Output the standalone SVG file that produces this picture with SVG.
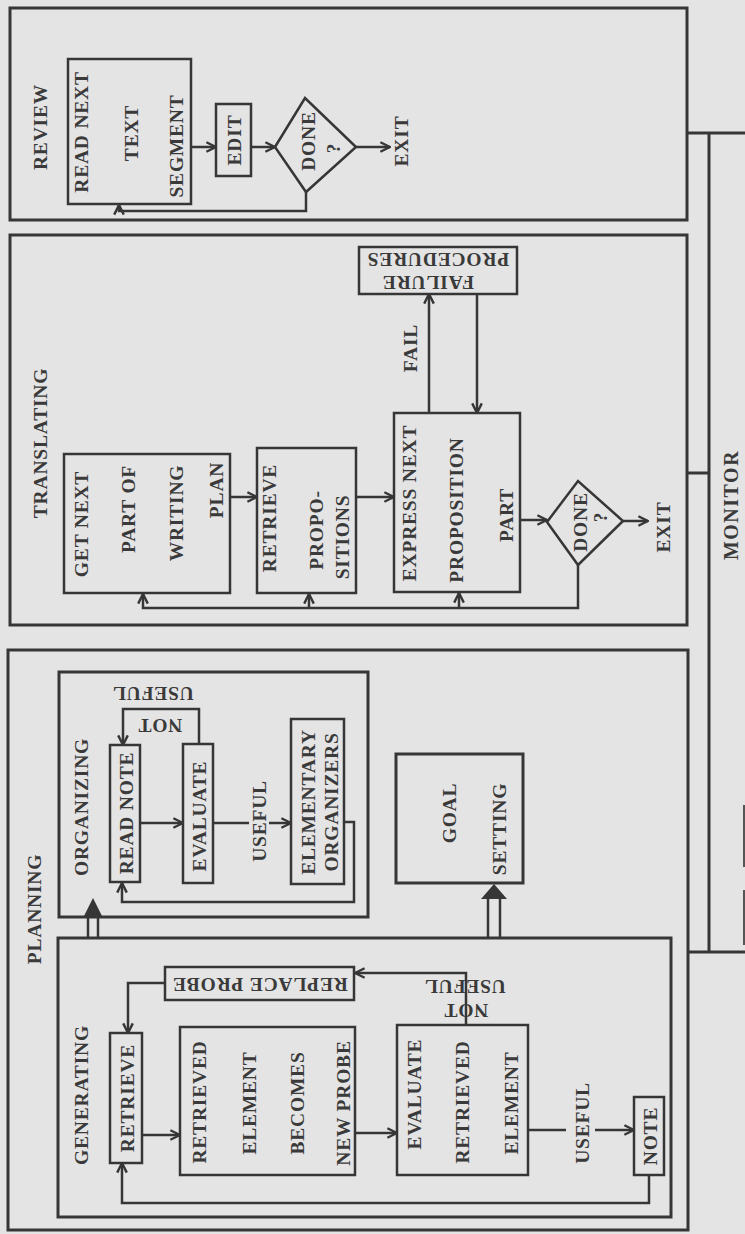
<svg xmlns="http://www.w3.org/2000/svg" width="745" height="1234" viewBox="0 0 745 1234">
<style>
.bg{fill:#e4e4e4}
.box{fill:none;stroke:#363636;stroke-width:3}
.ib{fill:none;stroke:#363636;stroke-width:2.5}
.ln{fill:none;stroke:#363636;stroke-width:2.5}
.ar{fill:none;stroke:#363636;stroke-width:2.5;marker-end:url(#a)}
.t{font-family:"Liberation Serif","Times New Roman",serif;font-size:19.5px;font-weight:bold;fill:#3a3a3a;letter-spacing:0.8px;text-anchor:middle;dominant-baseline:central}
.b{font-size:20px;letter-spacing:1.5px}
.fh{fill:#363636;stroke:none}
.mk{fill:none;stroke:#555;stroke-width:2}
</style>
<defs>
<marker id="a" viewBox="0 0 10 10" refX="9" refY="5" markerWidth="12" markerHeight="12" markerUnits="userSpaceOnUse" orient="auto">
<path d="M1,1 L9,5 L1,9" fill="none" stroke="#363636" stroke-width="2"/>
</marker>
</defs>
<rect class="bg" x="0" y="0" width="745" height="1234"/>

<g id="review">
<rect class="box" x="10" y="8" width="677" height="212"/>
<text class="t" transform="translate(40,127) rotate(-90)">REVIEW</text>
<g id="read-next">
<rect class="ib" x="68" y="59" width="123" height="145"/>
<text class="t" transform="translate(81,132) rotate(-90)">READ NEXT</text>
<text class="t" transform="translate(131,133) rotate(-90)">TEXT</text>
<text class="t" transform="translate(176,146) rotate(-90)">SEGMENT</text>
</g>
<g id="edit">
<rect class="ib" x="216" y="104" width="35" height="72"/>
<text class="t" transform="translate(234,140) rotate(-90)">EDIT</text>
</g>
<g id="review-done">
<polygon class="ib" points="275,147 305,98 356,147 306,192"/>
<text class="t" transform="translate(308,141) rotate(-90)">DONE</text>
<text class="t" transform="translate(333,148) rotate(-90)">?</text>
</g>
<text id="review-exit" class="t" transform="translate(401,141) rotate(-90)">EXIT</text>
</g>

<g id="translating">
<rect class="box" x="10" y="235" width="677" height="390"/>
<text class="t" transform="translate(40,443) rotate(-90)">TRANSLATING</text>
<g id="get-next">
<rect class="ib" x="64" y="454" width="166" height="139"/>
<text class="t" transform="translate(81,524) rotate(-90)">GET NEXT</text>
<text class="t" transform="translate(128,509) rotate(-90)">PART OF</text>
<text class="t" transform="translate(176,513) rotate(-90)">WRITING</text>
<text class="t" transform="translate(216,490) rotate(-90)">PLAN</text>
</g>
<g id="retrieve-propositions">
<rect class="ib" x="257" y="448" width="99" height="145"/>
<text class="t" transform="translate(269,518) rotate(-90)">RETRIEVE</text>
<text class="t" transform="translate(316,530) rotate(-90)">PROPO-</text>
<text class="t" transform="translate(342,537) rotate(-90)">SITIONS</text>
</g>
<g id="express">
<rect class="ib" x="394" y="413" width="126" height="179"/>
<text class="t" transform="translate(409,503) rotate(-90)">EXPRESS NEXT</text>
<text class="t" transform="translate(456,510) rotate(-90)">PROPOSITION</text>
<text class="t" transform="translate(506,515) rotate(-90)">PART</text>
</g>
<g id="failure">
<rect class="ib" x="359" y="247" width="158" height="47"/>
<text class="t" transform="translate(428,282) rotate(180)">FAILURE</text>
<text class="t" transform="translate(438,259) rotate(180)">PROCEDURES</text>
</g>
<g id="translating-done">
<polygon class="ib" points="547,522 578,481 623,521 578,565"/>
<text class="t" transform="translate(580,522) rotate(-90)">DONE</text>
<text class="t" transform="translate(600,517) rotate(-90)">?</text>
</g>
<text id="translating-exit" class="t" transform="translate(663,527) rotate(-90)">EXIT</text>
</g>

<g id="planning">
<rect class="box" x="8" y="650" width="680" height="580"/>
<text class="t" transform="translate(34,909) rotate(-90)">PLANNING</text>
<g id="organizing">
<rect class="box" x="59" y="672" width="309" height="245"/>
<text class="t" transform="translate(81,807) rotate(-90)">ORGANIZING</text>
<g id="read-note">
<rect class="ib" x="110" y="745" width="30" height="137"/>
<text class="t" transform="translate(126,813) rotate(-90)">READ NOTE</text>
</g>
<g id="org-evaluate">
<rect class="ib" x="183" y="744" width="30" height="139"/>
<text class="t" transform="translate(199,816) rotate(-90)">EVALUATE</text>
</g>
<g id="elementary">
<rect class="ib" x="291" y="719" width="53" height="165"/>
<text class="t" transform="translate(308,802) rotate(-90)">ELEMENTARY</text>
<text class="t" transform="translate(331,802) rotate(-90)">ORGANIZERS</text>
</g>
</g>
<g id="goal-setting">
<rect class="box" x="396" y="754" width="127" height="129"/>
<text class="t" transform="translate(449,813) rotate(-90)">GOAL</text>
<text class="t" transform="translate(499,829) rotate(-90)">SETTING</text>
</g>
<g id="generating">
<rect class="box" x="58" y="938" width="613" height="279"/>
<text class="t" transform="translate(81,1095) rotate(-90)">GENERATING</text>
<g id="gen-retrieve">
<rect class="ib" x="110" y="1033" width="32" height="130"/>
<text class="t" transform="translate(127,1098) rotate(-90)">RETRIEVE</text>
</g>
<g id="replace-probe">
<rect class="ib" x="165" y="967" width="189" height="33"/>
<text class="t" transform="translate(260,984) rotate(180)">REPLACE PROBE</text>
</g>
<g id="new-probe">
<rect class="ib" x="180" y="1027" width="175" height="148"/>
<text class="t" transform="translate(199,1102) rotate(-90)">RETRIEVED</text>
<text class="t" transform="translate(249,1103) rotate(-90)">ELEMENT</text>
<text class="t" transform="translate(297,1103) rotate(-90)">BECOMES</text>
<text class="t" transform="translate(343,1103) rotate(-90)">NEW PROBE</text>
</g>
<g id="gen-evaluate">
<rect class="ib" x="397" y="1025" width="131" height="150"/>
<text class="t" transform="translate(414,1094) rotate(-90)">EVALUATE</text>
<text class="t" transform="translate(462,1102) rotate(-90)">RETRIEVED</text>
<text class="t" transform="translate(511,1103) rotate(-90)">ELEMENT</text>
</g>
<g id="note">
<rect class="ib" x="634" y="1097" width="30" height="78"/>
<text class="t" transform="translate(650,1136) rotate(-90)">NOTE</text>
</g>
</g>
</g>

<g id="monitor">
<text class="t b" transform="translate(731,505) rotate(-90)">MONITOR</text>
</g>

<g id="connectors">
<path class="ar" d="M191,147 H216"/>
<path class="ar" d="M251,147 H275"/>
<path class="ar" d="M356,147 H390"/>
<path class="ar" d="M306,192 V211 H119 V205"/>
<path class="ar" d="M230,497 H257"/>
<path class="ar" d="M356,497 H394"/>
<path class="ar" d="M520,520 H547"/>
<path class="ar" d="M623,521 H648"/>
<path class="ar" d="M429,413 V294"/>
<path class="ar" d="M477,294 V413"/>
<text class="t" transform="translate(410,348) rotate(-90)">FAIL</text>
<path class="ar" d="M578,565 V608 H143 V594"/>
<path class="ar" d="M309,608 V594"/>
<path class="ar" d="M459,608 V593"/>
<path class="ar" d="M140,823 H183"/>
<path class="ln" d="M213,823 H249"/>
<path class="ar" d="M269,823 H291"/>
<text class="t" transform="translate(259,821) rotate(-90)">USEFUL</text>
<path class="ar" d="M344,822 H354 V902 H122 V883"/>
<path class="ar" d="M199,744 V709 H123 V745"/>
<text class="t" transform="translate(160,725) rotate(180)">NOT</text>
<text class="t" transform="translate(153,693) rotate(180)">USEFUL</text>
<path class="ln" d="M88,938 V917 M98,938 V917"/>
<polygon class="fh" points="83,918 103,918 93,898"/>
<path class="ln" d="M488,938 V897 M500,938 V897"/>
<polygon class="fh" points="481,899 507,899 494,884"/>
<path class="ar" d="M165,983 H128 V1033"/>
<path class="ar" d="M142,1135 H180"/>
<path class="ar" d="M355,1133 H397"/>
<path class="ar" d="M466,1025 V973 H355"/>
<text class="t" transform="translate(466,1010) rotate(180)">NOT</text>
<text class="t" transform="translate(465,986) rotate(180)">USEFUL</text>
<path class="ln" d="M528,1130 H566"/>
<text class="t" transform="translate(582,1123) rotate(-90)">USEFUL</text>
<path class="ar" d="M595,1130 H634"/>
<path class="ar" d="M649,1175 V1203 H122 V1163"/>
<path class="box" d="M687,133 H745 M709,133 V952 M688,952 H745 M687,473 H709"/>
<path class="mk" d="M744,805 V867 M744,890 V945"/>
</g>
</svg>
